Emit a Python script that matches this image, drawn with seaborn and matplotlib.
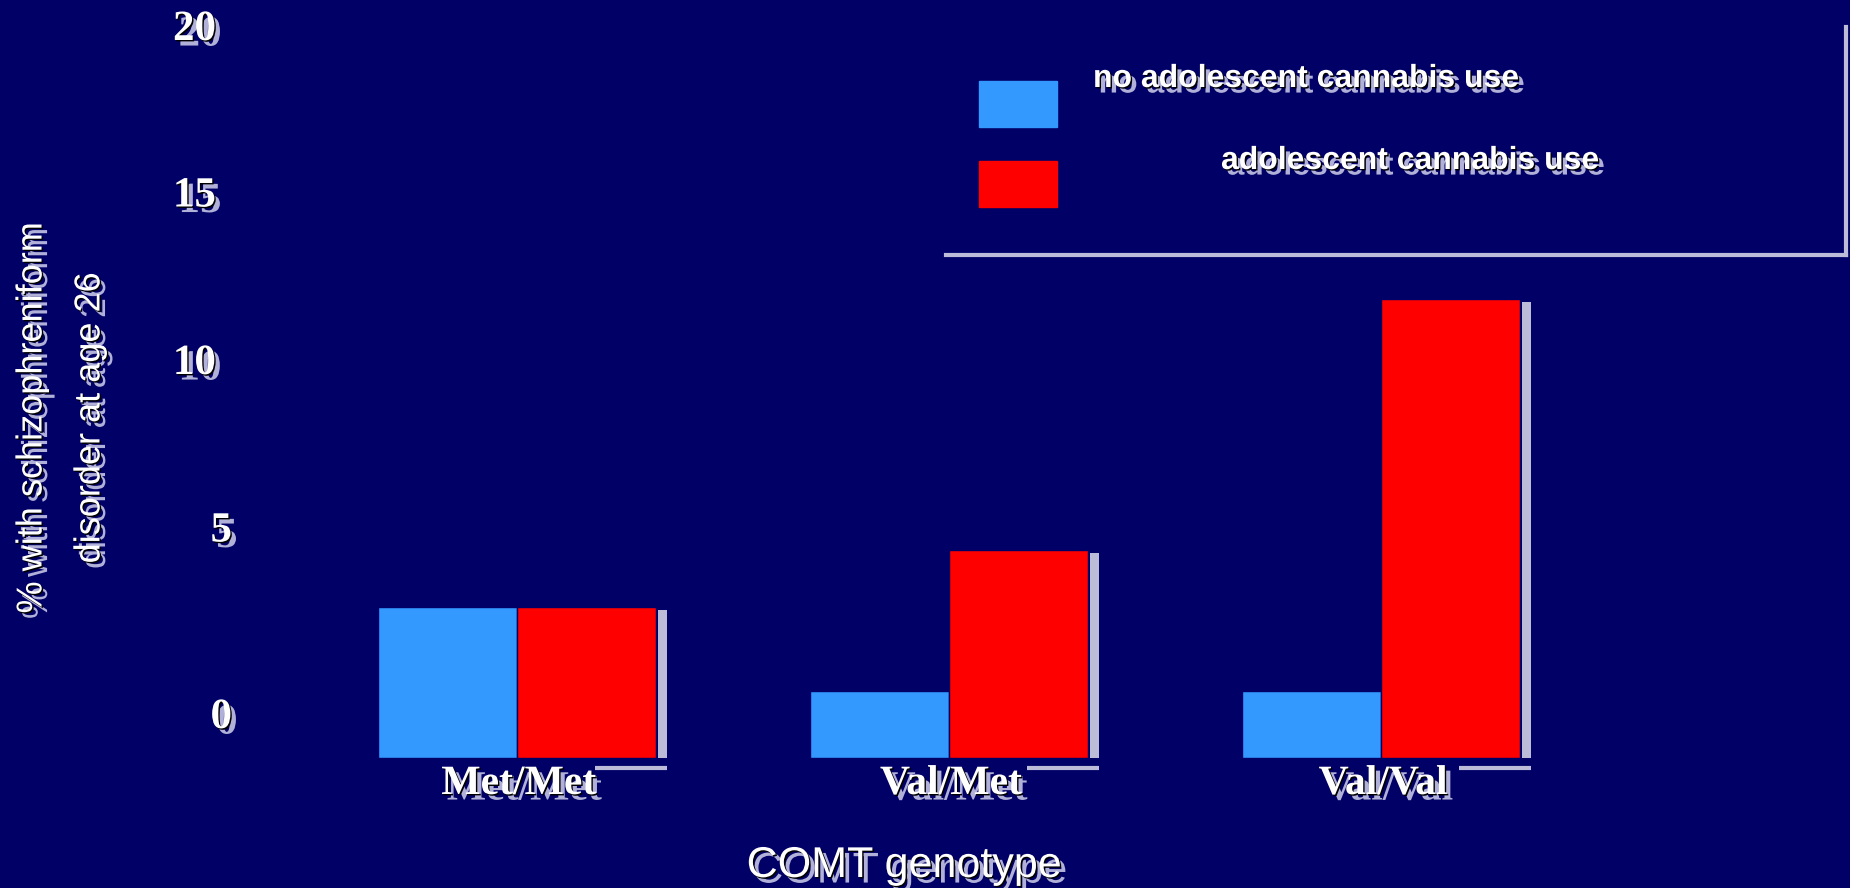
import matplotlib
matplotlib.use("Agg")
import matplotlib.pyplot as plt
import seaborn as sns
import pandas as pd
from matplotlib import patheffects as pe, transforms as mtrans, font_manager
from matplotlib.patches import Rectangle
from matplotlib.lines import Line2D

# ---------------- data ----------------
genotypes = ["Met/Met", "Val/Met", "Val/Val"]
groups = ["no adolescent cannabis use", "adolescent cannabis use"]
no_use = [4.5, 2.0, 2.0]
use = [4.5, 6.2, 13.7]
y_ticks = [0, 5, 10, 15, 20]
x_title = "COMT genotype"
y_title = "% with schizophreniform\ndisorder at age 26"

# ---------------- style ----------------
BG = "#000066"
COLORS = ["#3399FF", "#FF0000"]
GREY = "#BCBCD8"
SHADOW = "#B0B0D8"

available = {f.name for f in font_manager.fontManager.ttflist}
SANS = "Liberation Sans"
NARROW = "Liberation Sans Narrow" if "Liberation Sans Narrow" in available else SANS
SERIF = "Liberation Serif"

fx = [pe.SimplePatchShadow(offset=(4, -4), shadow_rgbFace=SHADOW, alpha=1.0),
      pe.SimplePatchShadow(offset=(1, -1), shadow_rgbFace="black", alpha=1.0),
      pe.Normal()]

W, H = 1850, 888
fig = plt.figure(figsize=(W / 100, H / 100), dpi=100, facecolor=BG)
ax_left, ax_bottom, ax_w, ax_h = 158, 130, 1625, 753.75
ax = fig.add_axes([ax_left / W, ax_bottom / H, ax_w / W, ax_h / H])
ax.set_facecolor(BG)

df = pd.DataFrame({
    "genotype": genotypes * 2,
    "group": [groups[0]] * len(genotypes) + [groups[1]] * len(genotypes),
    "percent": no_use + use,
})

sns.barplot(data=df, x="genotype", y="percent", hue="group", order=genotypes,
            hue_order=groups, palette=COLORS, saturation=1, width=0.644,
            errorbar=None, edgecolor=BG, linewidth=1, legend=False, ax=ax)

xmin, xmax, ymin, ymax = -0.83, 2.93, 0, 22.5
ax.set_xlim(xmin, xmax)
ax.set_ylim(ymin, ymax)
for s in ax.spines.values():
    s.set_visible(False)
ax.tick_params(length=0, labelleft=False, labelbottom=False)
ax.grid(False)

px_x = ax_w / (xmax - xmin)
px_y = ax_h / (ymax - ymin)

# 3D-ish grey shadows on the right of each group and floor line
for blue, red in zip(ax.containers[0], ax.containers[1]):
    x0 = red.get_x() + red.get_width() + 2 / px_x
    w = 9 / px_x
    ax.bar(x0, red.get_height() - 3 / px_y, width=w, bottom=0, align="edge",
           color=GREY, linewidth=0, zorder=1)
    center = blue.get_x() + blue.get_width()
    ax.add_line(Line2D([center + 0.18, x0 + w], [-10 / px_y] * 2, color=GREY,
                       lw=3, clip_on=False, solid_capstyle="butt"))

# y tick labels (offset like the original slide)
shift_up = [30, 49, 49, 49, 48]
right_px = [74, 74, 58, 58, 58]
blend = mtrans.blended_transform_factory(ax.transAxes, ax.transData)
for v, du, dr in zip(y_ticks, shift_up, right_px):
    t = blend + mtrans.ScaledTranslation(dr / 100, du / 100, fig.dpi_scale_trans)
    ax.text(0, v, str(v), transform=t, ha="right", va="baseline", color="white",
            family=SERIF, weight="bold", fontsize=31, path_effects=fx)

# category labels
blend_x = mtrans.blended_transform_factory(ax.transData, ax.transAxes)
for i, g in enumerate(genotypes):
    t = blend_x + mtrans.ScaledTranslation(2 / 100, -36 / 100, fig.dpi_scale_trans)
    ax.text(i, 0, g, transform=t, ha="center", va="baseline", color="white",
            family=SERIF, weight="bold", fontsize=30, path_effects=fx)

# axis titles
ax.set_xlabel(x_title, color="white", family=SANS, fontsize=31,
              va="center", ha="center", path_effects=fx)
ax.xaxis.set_label_coords((904 - ax_left) / ax_w, ((H - 866) - ax_bottom) / ax_h)
ax.set_ylabel(y_title, color="white", family=NARROW,
              fontsize=31 if NARROW != SANS else 26, rotation=90,
              rotation_mode="default", va="center", ha="center",
              multialignment="center", linespacing=1.85, path_effects=fx)
ax.yaxis.set_label_coords((61 - ax_left) / ax_w, ((H - 418) - ax_bottom) / ax_h)

# legend drawn like the slide
sw = [(979, 81), (979, 161)]
txt = [(1093, 87), (1221, 169)]
for (sx, sy), (tx, ty), c, lab in zip(sw, txt, COLORS, groups):
    fig.patches.append(Rectangle((sx / W, 1 - (sy + 46) / H), 78 / W, 46 / H,
                                 transform=fig.transFigure, color=c))
    fig.text(tx / W, 1 - ty / H, lab, ha="left", va="baseline", color="white",
             family=SANS, weight="bold", fontsize=23, path_effects=fx)
fig.lines.append(Line2D([946 / W, 1846 / W], [1 - 255 / H] * 2, color=GREY,
                        lw=3, transform=fig.transFigure))
fig.lines.append(Line2D([1846 / W] * 2, [1 - 27 / H, 1 - 255 / H], color=GREY,
                        lw=3, transform=fig.transFigure))

fig.savefig("out.png", dpi=100, facecolor=BG)
